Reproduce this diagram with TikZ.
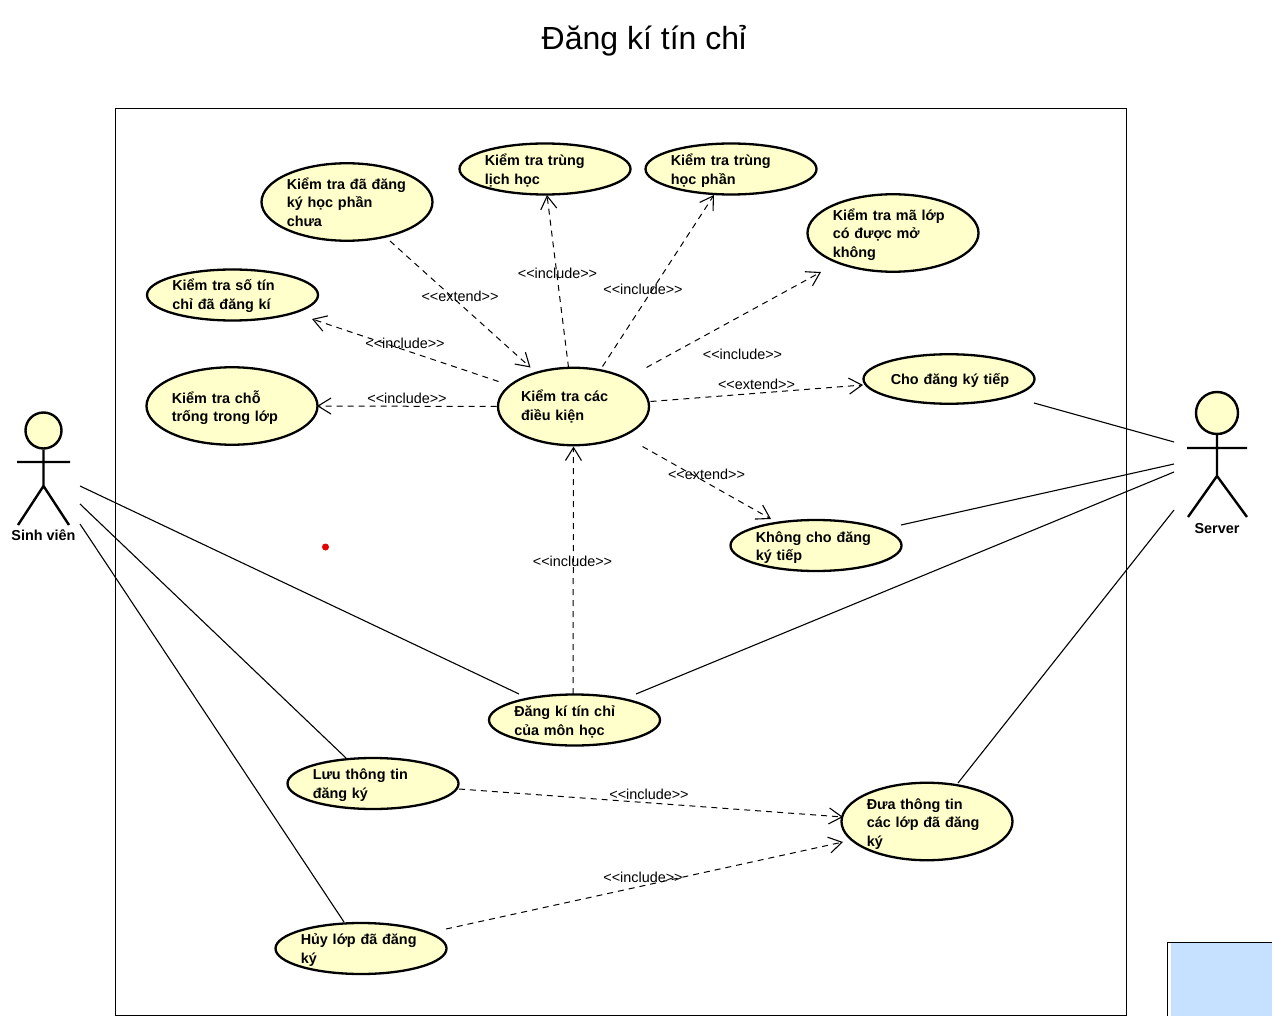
\documentclass[tikz,border=0pt]{standalone}
\usepackage{fontspec}
\setmainfont{Liberation Sans}
\usetikzlibrary{shapes.geometric,arrows.meta,calc}
\definecolor{ucfill}{HTML}{FFFFCC}
\definecolor{noteblue}{HTML}{C6E0FF}
\tikzset{
  usecase/.style={ellipse,draw=black,line width=2.3pt,fill=ucfill,inner sep=0pt,minimum width=171pt,text width=120.5pt,align=left,
    font=\fontsize{14.4}{18.5}\selectfont\bfseries},
  smallcase/.style={usecase,minimum height=51pt},
  bigcase/.style={usecase,minimum height=77.5pt},
  lower/.style={execute at end node={\par\vspace*{-#1pt}}},
  inc/.style={dash pattern=on 6pt off 5pt,line width=1pt,-{Straight Barb[length=13pt,width=16pt,line width=1.1pt]}},
  assoc/.style={line width=1.1pt},
  stereo/.style={font=\fontsize{14.4}{16}\selectfont,inner sep=0pt},
  actorhead/.style={circle,draw=black,line width=2.4pt,fill=ucfill,inner sep=0pt},
  actorname/.style={font=\fontsize{14.4}{16}\selectfont\bfseries,inner sep=0pt},
  limb/.style={line width=2.4pt}
}
\begin{document}
\begin{tikzpicture}[x=1pt,y=-1pt]
\useasboundingbox (0,0) rectangle (1272,1016);
\node[font=\fontsize{32}{36}\selectfont,inner sep=0pt] (title) at (644,41) {Đăng kí tín chỉ};
\node[draw=black,line width=1.1pt,minimum width=1011pt,minimum height=907pt,inner sep=0pt] (system) at (621,562) {};
% corner note
\fill[noteblue] (1171,943) rectangle (1272,1016);
\draw[line width=1.3pt] (1167.5,1016) -- (1167.5,942.5) -- (1272,942.5);
% red dot
\node[circle,fill=red!90!black,inner sep=0pt,minimum size=7pt] (dot) at (325.5,547) {};

\node[bigcase] (E1) at (347,202) {Kiểm tra đã đăng\\ký học phần\\chưa};
\node[smallcase,lower=3] (E2) at (545,169) {Kiểm tra trùng\\lịch học};
\node[smallcase,lower=3] (E3) at (731,169) {Kiểm tra trùng\\học phần};
\node[bigcase,lower=3] (E4) at (893,233) {Kiểm tra mã lớp\\có được mở\\không};
\node[smallcase,lower=1.5] (E5) at (232.5,295) {Kiểm tra số tín\\chỉ đã đăng kí};
\node[bigcase,lower=3] (E6) at (232,406) {Kiểm tra chỗ\\trống trong lớp};
\node[bigcase,minimum width=151pt,text width=105pt] (E7) at (573.5,406.5) {Kiểm tra các\\điều kiện};
\node[smallcase,minimum height=49.5pt,lower=2] (E8) at (949,379) {\hspace*{2pt}Cho đăng ký tiếp};
\node[smallcase,lower=4] (E9) at (816,545.5) {Không cho đăng\\ký tiếp};
\node[smallcase,lower=4] (E10) at (574.5,720) {Đăng kí tín chỉ\\của môn học};
\node[smallcase,lower=3] (E11) at (373,783.5) {Lưu thông tin\\đăng ký};
\node[bigcase,lower=5] (E12) at (927,821.5) {Đưa thông tin\\các lớp đã đăng\\ký};
\node[smallcase,lower=3] (E13) at (361,948.5) {Hủy lớp đã đăng\\ký};

% actors
\node[actorhead,minimum size=36pt] (A1) at (43.5,430.5) {};
\draw[limb] (A1.south) -- (43.5,486) (17,462) -- (70,462) (18,525) -- (43.5,486) -- (69,525);
\node[actorname] (A1n) at (43.5,535) {Sinh viên};
\node[actorhead,minimum size=42pt] (A2) at (1217,413) {};
\draw[limb] (A2.south) -- (1217,476) (1187,448) -- (1247,448) (1188,517) -- (1217,476) -- (1247,517);
\node[actorname] (A2n) at (1217,528.5) {Server};
\coordinate (a1p) at (80,486);
\coordinate (a2p) at (80,504);
\coordinate (a3p) at (80,524);
\coordinate (s1p) at (1174,442);
\coordinate (s2p) at (1174,464);
\coordinate (s3p) at (1174,472);
\coordinate (s4p) at (1174,510);

% dependencies
\draw[inc] ($(E1)+(43,39)$) -- ($(E7)+(-43,-39)$);
\draw[inc] ($(E7)+(-5,-39)$) -- ($(E2)+(2,26)$);
\draw[inc] ($(E7)+(29,-40)$) -- ($(E3)+(-17,26)$);
\draw[inc] ($(E7)+(73,-39)$) -- ($(E4)+(-72,39)$);
\draw[inc] ($(E7)+(-75,-25)$) -- ($(E5)+(79.5,24)$);
\draw[inc] ($(E7)+(-77,0)$) -- ($(E6)+(85,0)$);
\draw[inc] ($(E7)+(77,-5)$) -- ($(E8)+(-86,6)$);
\draw[inc] ($(E7)+(69,40)$) -- ($(E9)+(-45,-26.5)$);
\draw[inc] ($(E10)+(-1.5,-26)$) -- ($(E7)+(0,40)$);
\draw[inc] ($(E11)+(86,5.5)$) -- ($(E12)+(-84,-4.5)$);
\draw[inc] ($(E13)+(85,-19.5)$) -- ($(E12)+(-84,20.5)$);

% associations
\draw[assoc] (a1p) -- ($(E10)+(-55.5,-26)$);
\draw[assoc] (a2p) -- ($(E11)+(-27,-25.5)$);
\draw[assoc] (a3p) -- ($(E13)+(-17,-26.5)$);
\draw[assoc] ($(E8)+(85,24)$) -- (s1p);
\draw[assoc] ($(E9)+(85,-20.5)$) -- (s2p);
\draw[assoc] ($(E10)+(61.5,-26)$) -- (s3p);
\draw[assoc] ($(E12)+(31,-38.5)$) -- (s4p);

% stereotypes
\node[stereo] (l1) at (557.5,273.5) {<{}<include>{}>};
\node[stereo] (l2) at (643,289.5) {<{}<include>{}>};
\node[stereo] (l3) at (460,296.5) {<{}<extend>{}>};
\node[stereo] (l4) at (405,343.5) {<{}<include>{}>};
\node[stereo] (l5) at (407,398.5) {<{}<include>{}>};
\node[stereo] (l6) at (742.5,354.5) {<{}<include>{}>};
\node[stereo] (l7) at (756.5,384.5) {<{}<extend>{}>};
\node[stereo] (l8) at (706.5,474.5) {<{}<extend>{}>};
\node[stereo] (l9) at (572.5,561.5) {<{}<include>{}>};
\node[stereo] (l10) at (649,794.5) {<{}<include>{}>};
\node[stereo] (l11) at (643,877.5) {<{}<include>{}>};
\end{tikzpicture}
\end{document}
